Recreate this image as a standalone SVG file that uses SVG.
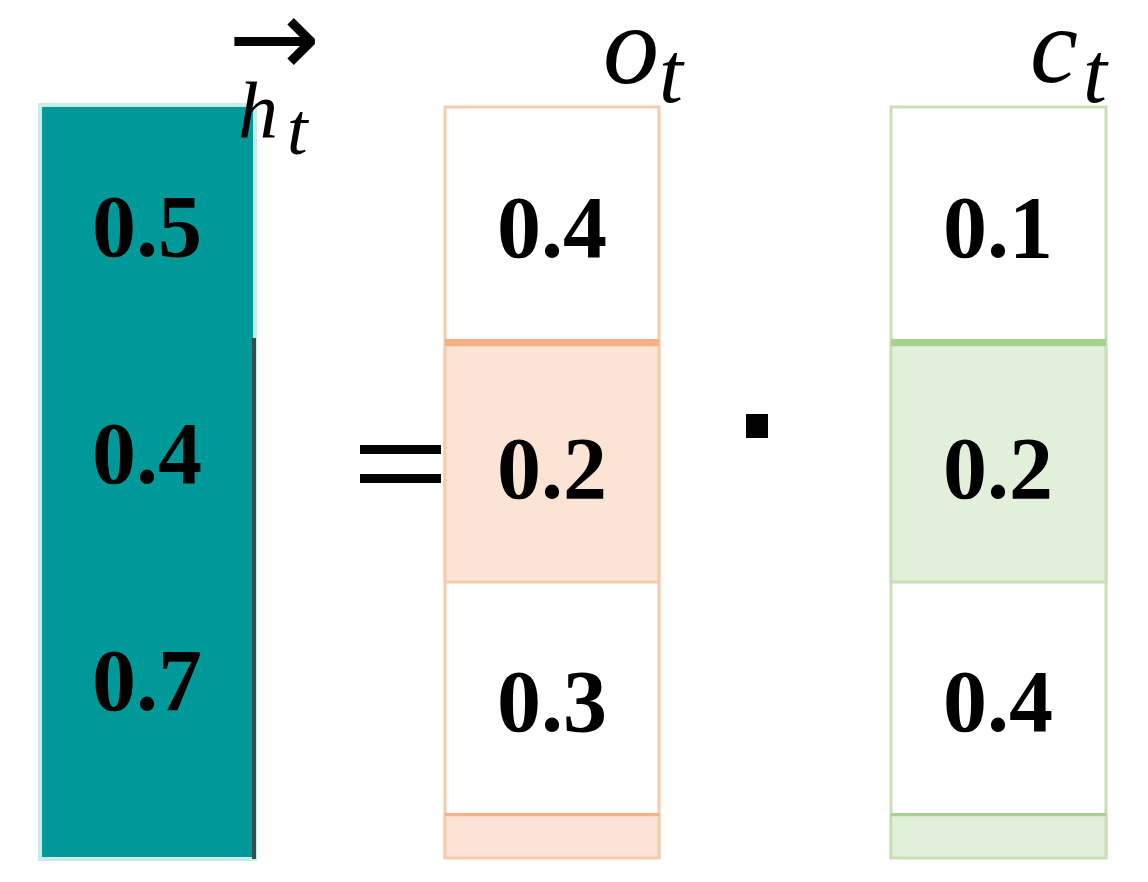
<svg xmlns="http://www.w3.org/2000/svg" width="1148" height="882" viewBox="0 0 1148 882">
<style>
.num{font-family:"Liberation Serif","Times New Roman",serif;font-weight:bold;font-size:88px;fill:#000;text-anchor:middle}
.it{font-family:"Liberation Serif","Times New Roman",serif;font-style:italic;fill:#000}
.op{fill:#000}
.o-cell{stroke:#f8cbad;stroke-width:3}
.g-cell{stroke:#c5e0b4;stroke-width:3}
</style>
<rect width="1148" height="882" fill="#fff"/>
<g id="h-column">
<rect x="40" y="105" width="215" height="754" fill="#009999" stroke="#c9ecea" stroke-width="4"/>
<rect x="252" y="338" width="4" height="521" fill="#364d4d"/>
<text class="num" x="147" y="256">0.5</text>
<text class="num" x="147" y="483">0.4</text>
<text class="num" x="147" y="710">0.7</text>
</g>
<g id="h-label">
<text x="228" y="76" font-family="DejaVu Sans, sans-serif" font-size="110" fill="#000">→</text>
<text class="it" x="238" y="137" font-size="80">h</text>
<text class="it" x="287" y="154" font-size="74">t</text>
</g>
<g id="equals">
<rect class="op" x="360" y="445" width="81" height="9"/>
<rect class="op" x="360" y="474" width="81" height="9"/>
</g>
<g id="o-column">
<rect class="o-cell" x="445" y="107" width="214" height="750" fill="#fff"/>
<rect class="o-cell" x="445" y="345" width="214" height="237" fill="#fbe3d6"/>
<rect x="445" y="339" width="214" height="7" fill="#f4b183"/>
<rect class="o-cell" x="445" y="815" width="214" height="43" fill="#fbe3d6"/>
<rect x="445" y="813" width="214" height="3" fill="#f4b183"/>
<text class="num" x="552" y="257">0.4</text>
<text class="num" x="552" y="498">0.2</text>
<text class="num" x="552" y="731">0.3</text>
</g>
<g id="o-label">
<text class="it" x="603" y="83" font-size="112">o</text>
<text class="it" x="659" y="102" font-size="86">t</text>
</g>
<g id="dot">
<rect class="op" x="746" y="414" width="22" height="24"/>
</g>
<g id="c-column">
<rect class="g-cell" x="891" y="107" width="215" height="750" fill="#fff"/>
<rect class="g-cell" x="891" y="345" width="215" height="237" fill="#e2efda"/>
<rect x="891" y="339" width="215" height="7" fill="#a9d18e"/>
<rect class="g-cell" x="891" y="815" width="215" height="43" fill="#e2efda"/>
<rect x="891" y="813" width="215" height="3" fill="#a9d18e"/>
<text class="num" x="998" y="257">0.1</text>
<text class="num" x="998" y="498">0.2</text>
<text class="num" x="998" y="731">0.4</text>
</g>
<g id="c-label">
<text class="it" x="1030" y="82" font-size="108">c</text>
<text class="it" x="1083" y="102" font-size="86">t</text>
</g>
</svg>
